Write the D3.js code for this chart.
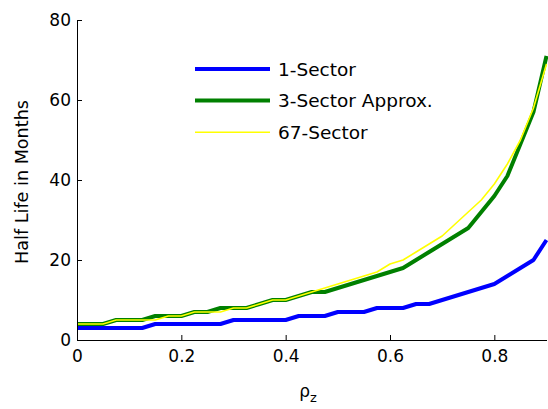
<!DOCTYPE html>
<html>
<head>
<meta charset="utf-8">
<script src="https://cdn.jsdelivr.net/npm/d3@7/dist/d3.min.js"></script>
<style>
  html, body { margin: 0; padding: 0; background: #fff; }
  svg { display: block; }
</style>
</head>
<body>
<svg id="chart" width="548" height="409"></svg>
<script>
// ---- data ----
const rho = [0, 0.025, 0.05, 0.075, 0.1, 0.125, 0.15, 0.175, 0.2, 0.225, 0.25, 0.275, 0.3, 0.325,
  0.35, 0.375, 0.4, 0.425, 0.45, 0.475, 0.5, 0.525, 0.55, 0.575, 0.6, 0.625, 0.65, 0.675,
  0.7, 0.725, 0.75, 0.775, 0.8, 0.825, 0.85, 0.875, 0.9];
const oneSector = [3, 3, 3, 3, 3, 3, 4, 4, 4, 4, 4, 4, 5, 5,
  5, 5, 5, 6, 6, 6, 7, 7, 7, 8, 8, 8, 9, 9,
  10, 11, 12, 13, 14, 16, 18, 20, 25];
const threeSector = [4, 4, 4, 5, 5, 5, 6, 6, 6, 7, 7, 8, 8, 8,
  9, 10, 10, 11, 12, 12, 13, 14, 15, 16, 17, 18, 20, 22,
  24, 26, 28, 32, 36, 41, 49, 57, 71];
const sixtySevenSector = [4, 4, 4, 5, 5, 5, 5, 6, 6, 7, 7, 7, 8, 8,
  9, 10, 10, 11, 12, 13, 14, 15, 16, 17, 19, 20, 22, 24,
  26, 29, 32, 35, 39, 44, 50, 58, 69];
const seriesNames = ["1-Sector", "3-Sector Approx.", "67-Sector"];
const xTicks = [0, 0.2, 0.4, 0.6, 0.8];
const yTicks = [0, 20, 40, 60, 80];

// ---- chart ----
const svg = d3.select("#chart");
const FONT = "'DejaVu Sans', sans-serif";
const x = d3.scaleLinear().domain([0, 0.9]).range([77, 546.5]);
const y = d3.scaleLinear().domain([0, 80]).range([340, 20]);

const series = [
  { name: seriesNames[0], values: oneSector, color: "#0000ff", width: 4 },
  { name: seriesNames[1], values: threeSector, color: "#008000", width: 4 },
  { name: seriesNames[2], values: sixtySevenSector, color: "#ffff00", width: 1.6 }
];

const line = d3.line().x(d => x(d[0])).y(d => y(d[1]));

svg.append("g").selectAll("path").data(series).join("path")
  .attr("fill", "none")
  .attr("stroke", d => d.color)
  .attr("stroke-width", d => d.width)
  .attr("stroke-linejoin", "round")
  .attr("d", d => line(rho.map((r, i) => [r, d.values[i]])));

// axes
const xAxis = d3.axisBottom(x).tickValues(xTicks).tickFormat(d3.format("~g"))
  .tickSizeInner(-5).tickSizeOuter(0).tickPadding(10);
const yAxis = d3.axisLeft(y).tickValues(yTicks).tickFormat(d3.format("~g"))
  .tickSizeInner(-5).tickSizeOuter(0).tickPadding(6);

const gx = svg.append("g").attr("transform", "translate(0,340)").call(xAxis);
const gy = svg.append("g").attr("transform", "translate(77,0)").call(yAxis);
[gx, gy].forEach(g => {
  g.selectAll("text").attr("font-family", FONT).attr("font-size", 17).attr("fill", "#000");
  g.selectAll("line, path").attr("stroke", "#000").attr("stroke-width", 1);
});

// axis titles
svg.append("text")
  .attr("transform", "translate(28,182) rotate(-90)")
  .attr("text-anchor", "middle")
  .attr("font-family", FONT).attr("font-size", 17.6)
  .text("Half Life in Months");

const xt = svg.append("text")
  .attr("x", 308).attr("y", 397)
  .attr("text-anchor", "middle")
  .attr("font-family", FONT).attr("font-size", 17);
xt.append("tspan").text("ρ");
xt.append("tspan").attr("font-size", 13).attr("dy", 5).text("z");

// legend
const lg = svg.append("g");
series.forEach((s, i) => {
  const ly = 69 + i * 31.6;
  lg.append("line").attr("x1", 195).attr("x2", 270).attr("y1", ly).attr("y2", ly)
    .attr("stroke", s.color).attr("stroke-width", s.width);
  lg.append("text").attr("x", 278).attr("y", ly).attr("dy", "0.36em")
    .attr("font-family", FONT).attr("font-size", 18.5).text(s.name);
});
</script>
</body>
</html>
